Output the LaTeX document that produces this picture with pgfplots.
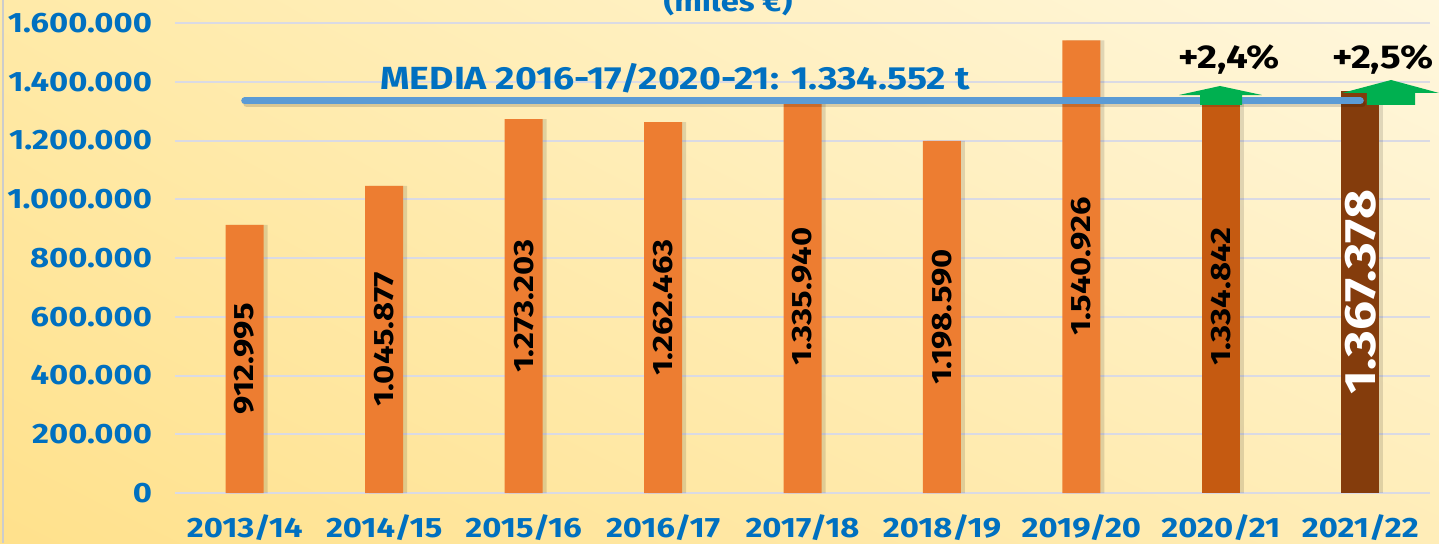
\documentclass[border=0pt]{standalone}
\usepackage{pgfplots}
\pgfplotsset{compat=1.18}
\usepackage{pgfplotstable}
\usetikzlibrary{shadings}
\usepackage{fontspec}
\setmainfont{Fira Sans}[FakeStretch=1.17]
\definecolor{txtblue}{HTML}{0070C0}
\definecolor{barorange}{HTML}{ED7D31}
\definecolor{barmid}{HTML}{C55A11}
\definecolor{bardark}{HTML}{843C0C}
\definecolor{meanblue}{HTML}{5B9BD5}
\definecolor{upgreen}{HTML}{00B050}
\definecolor{gridc}{HTML}{DADAE4}
\definecolor{bgll}{HTML}{FFE18C}
\definecolor{bgul}{HTML}{FFEAA8}
\definecolor{bglr}{HTML}{FFEDB8}
\definecolor{bgur}{HTML}{FFF7DE}

\pgfplotstableread{
x y lab
0 912995 912.995
1 1045877 1.045.877
2 1273203 1.273.203
3 1262463 1.262.463
4 1335940 1.335.940
5 1198590 1.198.590
6 1540926 1.540.926
7 1334842 1.334.842
}\datatable
\pgfplotstableread{
x y lab
8 1367378 1.367.378
}\lasttable

\begin{document}
\begin{tikzpicture}
\useasboundingbox (0,0) rectangle (719.5pt,271.5pt);
\shade[lower left=bgll, upper left=bgul, lower right=bglr, upper right=bgur] (0,0) rectangle (719.5pt,271.5pt);
\draw[gray!40, line width=1pt] (1.5pt,0) -- (1.5pt,271.5pt);
\node[anchor=base, font=\fontsize{14}{16}\selectfont\bfseries, text=txtblue] at (364pt,266pt) {(miles €)};
\begin{axis}[
  at={(87.5pt,25pt)}, anchor=south west,
  scale only axis, width=627.5pt, height=235pt,
  xmin=-0.5, xmax=8.5, ymin=0, ymax=1600000,
  clip=false,
  axis line style={draw=none},
  tick style={draw=none},
  ymajorgrids, grid style={gridc, line width=1pt},
  ytick={0,200000,400000,600000,800000,1000000,1200000,1400000,1600000},
  scaled y ticks=false,
  yticklabel style={anchor=east, xshift=-8pt, text=txtblue, font=\fontsize{14}{16}\selectfont\bfseries, /pgf/number format/.cd, fixed, precision=0, 1000 sep={.}, assume math mode=true},
  xtick={0,1,2,3,4,5,6,7,8},
  xticklabels={2013/14,2014/15,2015/16,2016/17,2017/18,2018/19,2019/20,2020/21,2021/22},
  xticklabel style={yshift=-7.5pt, text=txtblue, font=\fontsize{14}{16}\selectfont\bfseries},
]
% soft shadows
\addplot[ybar, bar width=19pt, bar shift=2pt, fill=black, fill opacity=0.12, draw=none] table[x=x,y=y] \datatable;
\addplot[ybar, bar width=19pt, bar shift=2pt, fill=black, fill opacity=0.12, draw=none] table[x=x,y=y] \lasttable;
% bars
\addplot[ybar, bar width=19pt, bar shift=0pt, fill=barorange, draw=none] coordinates {(0,912995) (1,1045877) (2,1273203) (3,1262463) (4,1335940) (5,1198590) (6,1540926)};
\addplot[ybar, bar width=19pt, bar shift=0pt, fill=barmid, draw=none] coordinates {(7,1334842)};
\addplot[ybar, bar width=19pt, bar shift=0pt, fill=bardark, draw=none] table[x=x,y=y] \lasttable;
% mean line
\addplot[draw=black, opacity=0.15, line width=3.5pt, line cap=round, shift={(1pt,-1.5pt)}] coordinates {(0,1334552) (8,1334552)};
\addplot[draw=meanblue, line width=3.5pt, line cap=round] coordinates {(0,1334552) (8,1334552)};
% value labels inside bars
\addplot[draw=none, mark=none, nodes near coords, point meta=explicit symbolic,
  every node near coord/.append style={anchor=center, rotate=90, text=black, font=\fontsize{14}{16}\selectfont\bfseries}]
  table[x=x, y expr=\thisrow{y}/2, meta=lab] \datatable;
\addplot[draw=none, mark=none, nodes near coords, point meta=explicit symbolic,
  every node near coord/.append style={anchor=center, rotate=90, text=white, font=\fontsize{22}{24}\selectfont\bfseries}]
  table[x=x, y expr=\thisrow{y}/2, meta=lab] \lasttable;
% arrows
\fill[upgreen] (axis cs:6.851,1320870) -- (axis cs:6.851,1354900) -- (axis cs:6.700,1354900) -- (axis cs:6.994,1385550) -- (axis cs:7.295,1354900) -- (axis cs:7.152,1354900) -- (axis cs:7.152,1320870) -- cycle;
\fill[upgreen] (axis cs:8.048,1320870) -- (axis cs:8.048,1361720) -- (axis cs:7.869,1361720) -- (axis cs:8.221,1405980) -- (axis cs:8.565,1361720) -- (axis cs:8.393,1361720) -- (axis cs:8.393,1320870) -- cycle;
\node[font=\fontsize{16.5}{18}\selectfont\bfseries, text=black] at (axis cs:7.06,1474000) {+2,4\%};
\node[font=\fontsize{16.5}{18}\selectfont\bfseries, text=black] at (axis cs:8.163,1474000) {+2,5\%};
\node[font=\fontsize{16}{18}\selectfont\bfseries, text=txtblue] at (axis cs:3.086,1412800) {MEDIA 2016-17/2020-21: 1.334.552 t};
\end{axis}
\end{tikzpicture}
\end{document}
